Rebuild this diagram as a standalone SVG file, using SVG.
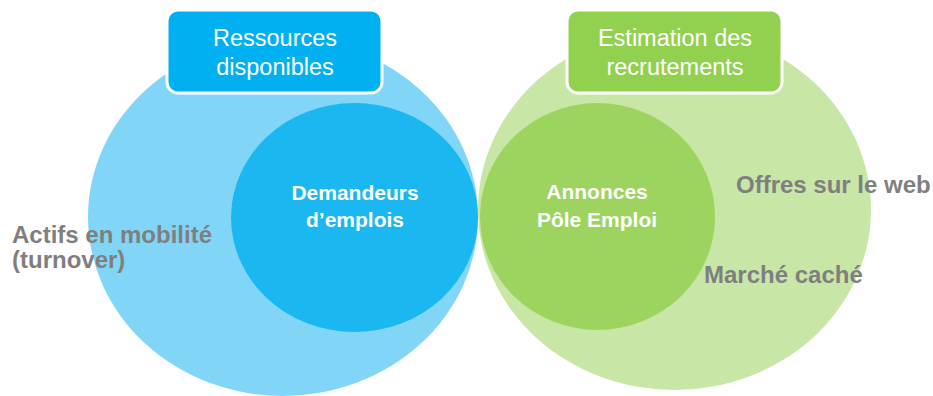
<svg xmlns="http://www.w3.org/2000/svg" width="933" height="396" viewBox="0 0 933 396">
<style>
.hdr{font-family:"Liberation Sans",Arial,sans-serif;font-size:23.5px;fill:#fff;text-anchor:middle}
.in{font-family:"Liberation Sans",Arial,sans-serif;font-size:21px;font-weight:bold;fill:#fff;text-anchor:middle}
.gr{font-family:"Liberation Sans",Arial,sans-serif;font-size:24px;font-weight:bold;fill:#7F7F7F}
.box{stroke:#fff;stroke-width:3}
</style>
<rect width="933" height="396" fill="#fff"/>
<g id="ressources-circle">
<ellipse cx="283" cy="217" rx="195" ry="179" fill="#81D6F8"/>
</g>
<g id="demandeurs">
<ellipse cx="354.5" cy="217.5" rx="123.5" ry="114.5" fill="#1AB7F0"/>
<text class="in" x="355" y="200">Demandeurs</text>
<text class="in" x="355" y="227">d’emplois</text>
</g>
<g id="recrutements-circle">
<ellipse cx="674.5" cy="209.5" rx="196.5" ry="180.5" fill="#C8E6A6"/>
</g>
<g id="annonces">
<ellipse cx="597.5" cy="216.5" rx="117.5" ry="113.5" fill="#9DD460"/>
<text class="in" x="597" y="199">Annonces</text>
<text class="in" x="597" y="227">Pôle Emploi</text>
</g>
<g id="label-ressources">
<rect class="box" x="167" y="10" width="215" height="83" rx="11" fill="#00B0F0"/>
<text class="hdr" x="275" y="46">Ressources</text>
<text class="hdr" x="275" y="75">disponibles</text>
</g>
<g id="label-recrutements">
<rect class="box" x="567" y="10" width="215" height="83" rx="11" fill="#92D050"/>
<text class="hdr" x="675" y="46">Estimation des</text>
<text class="hdr" x="675" y="75">recrutements</text>
</g>
<g id="actifs">
<text class="gr" x="12" y="243">Actifs en mobilité</text>
<text class="gr" x="12" y="268">(turnover)</text>
</g>
<g id="offres">
<text class="gr" x="736" y="193">Offres sur le web</text>
</g>
<g id="marche">
<text class="gr" x="704" y="283">Marché caché</text>
</g>
<g id="connectors"></g>
</svg>
